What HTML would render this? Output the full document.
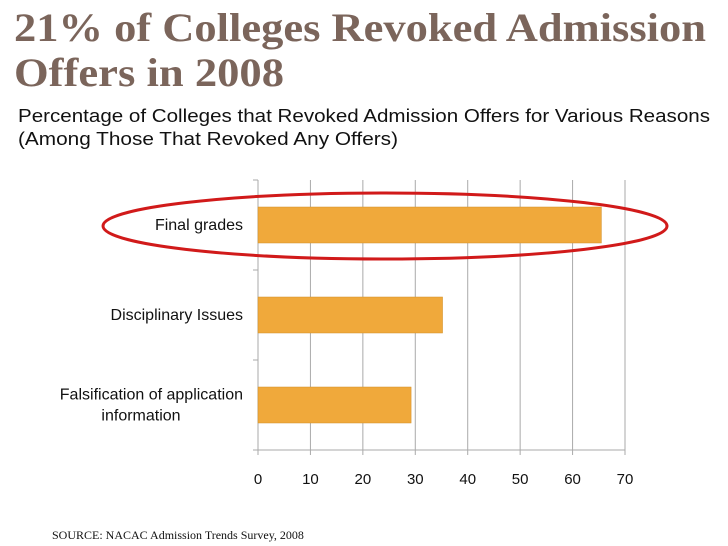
<!DOCTYPE html>
<html><head><meta charset="utf-8"><style>
body{margin:0;background:#fff;}
svg{display:block}
</style></head><body>
<svg width="728" height="546" xmlns="http://www.w3.org/2000/svg" id="chart">
<text x="14" y="41" font-family="Liberation Serif, serif" font-weight="bold" font-size="40" fill="#7b655b" textLength="692" lengthAdjust="spacingAndGlyphs">21% of Colleges Revoked Admission</text>
<text x="14" y="86" font-family="Liberation Serif, serif" font-weight="bold" font-size="40" fill="#7b655b" textLength="270" lengthAdjust="spacingAndGlyphs">Offers in 2008</text>
<text x="18" y="122" font-family="Liberation Sans, sans-serif" font-size="18" fill="#111" textLength="692" lengthAdjust="spacingAndGlyphs">Percentage of Colleges that Revoked Admission Offers for Various Reasons</text>
<text x="18" y="145" font-family="Liberation Sans, sans-serif" font-size="18" fill="#111" textLength="380" lengthAdjust="spacingAndGlyphs">(Among Those That Revoked Any Offers)</text>
<g id="plot"></g>
<ellipse cx="385" cy="226" rx="282" ry="33" fill="none" stroke="#d11a1a" stroke-width="3"/>
<text x="52" y="539" font-family="Liberation Serif, serif" font-size="12" fill="#111">SOURCE: NACAC Admission Trends Survey, 2008</text>
</svg>
<script>
const categories = ["Final grades", "Disciplinary Issues", "Falsification of application|information"];
const values = [65.5, 35.2, 29.2];
const ticks = [0, 10, 20, 30, 40, 50, 60, 70];
const NS = "http://www.w3.org/2000/svg";
const g = document.getElementById("plot");
const x0 = 258, x1 = 625, yTop = 180, yBot = 450, xMax = 70;
const xs = v => x0 + (v / xMax) * (x1 - x0);
const band = (yBot - yTop) / categories.length;
function mk(tag, attrs){const e=document.createElementNS(NS,tag);for(const k in attrs)e.setAttribute(k,attrs[k]);g.appendChild(e);return e;}
ticks.forEach((t,i)=>{
  const l = mk("line",{x1:xs(t),x2:xs(t),y1:yTop,y2:yBot+5,stroke:"#aaaaaa","stroke-width":1});
  
  
  const tx = mk("text",{x:xs(t),y:484,"text-anchor":"middle","font-family":"Liberation Sans, sans-serif","font-size":15,fill:"#111"});
  tx.textContent = t;
  
  
});
mk("line",{x1:x0-5,x2:x1,y1:yBot,y2:yBot,stroke:"#aaaaaa"});
for(let i=0;i<=categories.length;i++){
  const tk = mk("line",{x1:x0-5,x2:x0,y1:yTop+i*band,y2:yTop+i*band,stroke:"#aaaaaa"});
  
  
}
categories.forEach((c,i)=>{
  const cy = yTop + band*(i+0.5);
  const bh = 36;
  const r = mk("rect",{x:x0,y:cy-bh/2,width:xs(values[i])-x0,height:bh,fill:"#f0a93b",stroke:"#d08f2a","stroke-width":0.5});
  
  
  const lines = c.split("|");
  lines.forEach((ln,j)=>{
    const off = (j - (lines.length-1)/2)*21;
    const anchor = lines.length>1 && j>0 ? "middle" : "end";
    const tx = mk("text",{x: anchor==="end"?243:141,y:cy+off+5,"text-anchor":anchor,"font-family":"Liberation Sans, sans-serif","font-size":16,fill:"#111"});
    tx.textContent = ln;
    
    
  });
});
</script>
</body></html>
